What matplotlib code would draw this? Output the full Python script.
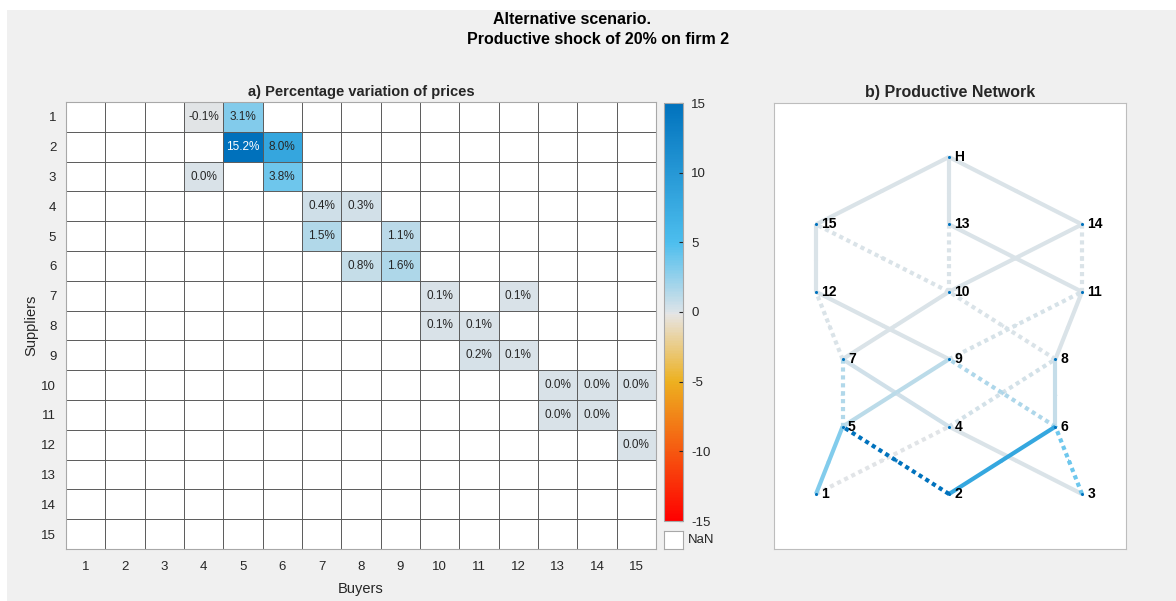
import numpy as np
import matplotlib
matplotlib.use('Agg')
import matplotlib.pyplot as plt
from matplotlib.colors import LinearSegmentedColormap, Normalize
from matplotlib.patches import Rectangle

plt.rcParams['font.family'] = ['Liberation Sans', 'DejaVu Sans']
plt.rcParams['axes.unicode_minus'] = False

# price variation (%) per supplier -> buyer link
suppliers = [1, 1, 2, 2, 3, 3, 4, 4, 5, 5, 6, 6, 7, 7, 8, 8, 9, 9, 10, 10, 10, 11, 11, 12]
buyers = [4, 5, 5, 6, 4, 6, 7, 8, 7, 9, 8, 9, 10, 12, 10, 11, 11, 12, 13, 14, 15, 13, 14, 15]
pct_var = [-0.1, 3.1, 15.2, 8.0, 0.0, 3.8, 0.4, 0.3, 1.5, 1.1, 0.8, 1.6,
           0.1, 0.1, 0.1, 0.1, 0.2, 0.1, 0.0, 0.0, 0.0, 0.0, 0.0, 0.0]
# line style of each link in the network (1 = dotted)
dotted = [1, 0, 1, 0, 0, 1, 0, 1, 1, 0, 0, 1, 0, 1, 1, 0, 1, 0, 1, 0, 1, 0, 1, 0]

# links to the household
hh_from = [13, 14, 15]
hh_var = [0.0, 0.0, 0.0]

# node layout for the network
node_names = ['1', '2', '3', '4', '5', '6', '7', '8', '9', '10', '11', '12', '13', '14', '15', 'H']
node_x = [0, 1, 2, 1, 0.2, 1.8, 0.2, 1.8, 1, 1, 2, 0, 1, 2, 0, 1]
node_y = [0, 0, 0, 1, 1, 1, 2, 2, 2, 3, 3, 3, 4, 4, 4, 5]

firms = list(range(1, 16))

W, H = 1176, 601
fig = plt.figure(figsize=(W / 100, H / 100), dpi=100, facecolor='white')
bg = '#f0f0f0'
fig.patches.append(Rectangle((7 / W, 0), 1, 1 - 10 / H, transform=fig.transFigure,
                             facecolor=bg, edgecolor='none', zorder=-10))


def px_axes(l, t, r, b):
    return fig.add_axes([l / W, 1 - b / H, (r - l) / W, (b - t) / H])


cmap = LinearSegmentedColormap.from_list('pv', [
    (0.0, (1.0, 0.0, 0.0)),
    (10 / 30, (0.929, 0.694, 0.125)),
    (14 / 30, (0.91, 0.86, 0.76)),
    (14.9 / 30, (0.90, 0.90, 0.90)),
    (15 / 30, (0.86, 0.89, 0.91)),
    (20 / 30, (0.301, 0.745, 0.933)),
    (1.0, (0.0, 0.447, 0.741)),
])
cmap.set_bad('white')
norm = Normalize(-15, 15)

# ---- a) heatmap
ax = px_axes(66, 102, 656, 549)
M = np.full((15, 15), np.nan)
for s, b, v in zip(suppliers, buyers, pct_var):
    M[s - 1, b - 1] = v
im = ax.imshow(M, cmap=cmap, norm=norm, extent=(0.5, 15.5, 15.5, 0.5), aspect='auto',
               interpolation='nearest')
for k in np.arange(1.5, 15.5, 1):
    ax.axhline(k, color='#5a5a5a', lw=0.7)
    ax.axvline(k, color='#5a5a5a', lw=0.7)
for s, b, v in zip(suppliers, buyers, pct_var):
    ax.text(b, s, f'{v:.1f}%', ha='center', va='center', fontsize=8.5,
            color='white' if v > 12 else '#262626')
ax.set_xticks(firms)
ax.set_yticks(firms)
ax.tick_params(length=0, labelsize=9.5, colors='#262626', pad=9)
ax.tick_params(axis='y', pad=7)
for sp in ax.spines.values():
    sp.set_color('#a8a8a8')
ax.set_xlabel('Buyers', fontsize=10.5, color='#262626', labelpad=6)
ax.set_ylabel('Suppliers', fontsize=10.5, color='#262626', labelpad=2)
ax.set_title('a) Percentage variation of prices', fontsize=10.5, fontweight='bold',
             color='#262626', pad=4)

# colorbar
cax = px_axes(664, 103, 683, 521)
cb = fig.colorbar(im, cax=cax, ticks=[-15, -10, -5, 0, 5, 10, 15])
cb.outline.set_edgecolor('#a8a8a8')
cax.tick_params(labelsize=9.5, colors='#262626', length=3, direction='in', pad=6)
nax = px_axes(664, 531, 683, 549)
nax.set_xticks([])
nax.set_yticks([])
for sp in nax.spines.values():
    sp.set_color('#a8a8a8')
fig.text(688 / W, 1 - 540 / H, 'NaN', fontsize=9.5, color='#262626', va='center')

# ---- b) network
ax2 = px_axes(774, 103, 1126, 549)
ax2.set_xlim((774 - 816) / 133, (1126 - 816) / 133)
ax2.set_ylim((494 - 549) / 67.4, (494 - 103) / 67.4)
ax2.set_xticks([])
ax2.set_yticks([])
for sp in ax2.spines.values():
    sp.set_color('#bdbdbd')
ax2.set_title('b) Productive Network', fontsize=11.5, fontweight='bold', color='#262626', pad=4)

links = list(zip(suppliers, buyers, pct_var, dotted))
links += [(f, 16, v, 0) for f, v in zip(hh_from, hh_var)]
order = sorted(range(len(links)), key=lambda i: abs(links[i][2]))
for i in order:
    a, b, v, d = links[i]
    x0, y0 = node_x[a - 1], node_y[a - 1]
    x1, y1 = node_x[b - 1], node_y[b - 1]
    c = cmap(norm(v))
    ax2.plot([x0, x1], [y0, y1], color=c, lw=3.0,
             linestyle=(0, (1.0, 0.9)) if d else '-', solid_capstyle='butt',
             dash_capstyle='butt', zorder=1)
    mx, my = (x0 + x1) / 2, (y0 + y1) / 2
    dx, dy = (x1 - x0) * 0.02, (y1 - y0) * 0.02
    ax2.annotate('', xy=(mx + dx, my + dy), xytext=(mx - dx, my - dy),
                 arrowprops=dict(arrowstyle='-|>', color=c, lw=0.1, mutation_scale=7,
                                 shrinkA=0, shrinkB=0), zorder=2)

ax2.scatter(node_x, node_y, s=5, color=(0.0, 0.447, 0.741), zorder=3, linewidths=0)
for name, x, y in zip(node_names, node_x, node_y):
    ax2.text(x + 0.04, y, name, fontsize=10, fontweight='bold', color='black',
             va='center', ha='left', zorder=4)

# ---- main title
fig.text(572 / W, 1 - 20 / H, 'Alternative scenario.', ha='center', va='center',
         fontsize=11.5, fontweight='bold')
fig.text(598 / W, 1 - 39 / H, 'Productive shock of 20% on firm 2', ha='center', va='center',
         fontsize=11.5, fontweight='bold')

fig.savefig('out.png', dpi=100, facecolor=fig.get_facecolor())
